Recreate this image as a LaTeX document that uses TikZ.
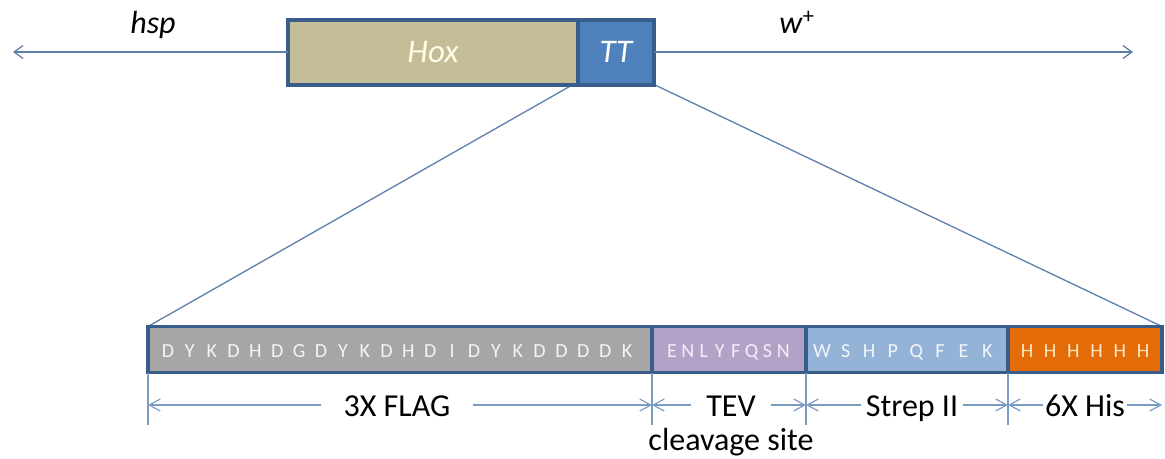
\documentclass[tikz,border=0pt]{standalone}
\usepackage{fontspec}
\setmainfont{Carlito}
\usetikzlibrary{arrows.meta,backgrounds}
\definecolor{boxline}{HTML}{385D8A}
\definecolor{hoxc}{HTML}{C4BD97}
\definecolor{ttc}{HTML}{4F81BD}
\definecolor{hoxtxt}{HTML}{FFFDE8}
\definecolor{linec}{HTML}{5E7FA8}
\definecolor{dimc}{HTML}{7D9CC4}
\definecolor{flagc}{HTML}{A6A6A6}
\definecolor{tevc}{HTML}{B3A2C7}
\definecolor{strepc}{HTML}{95B3D7}
\definecolor{hisc}{HTML}{E36C09}
\definecolor{flagtxt}{HTML}{F4F4F4}
\definecolor{tevtxt}{HTML}{F3EEF8}
\definecolor{streptxt}{HTML}{F2F6FB}
\definecolor{histxt}{HTML}{FCE6C2}
\tikzset{
  genebox/.style={draw=boxline, line width=4pt, inner sep=0pt, outer sep=0pt, minimum height=65pt},
  seg/.style={draw=boxline, line width=3.5pt, inner sep=0pt, outer sep=0pt, minimum height=46pt, anchor=west},
  lbl/.style={font=\fontsize{32}{38}\selectfont, text=black, inner sep=0pt},
  dimlbl/.style={font=\fontsize{32}{38}\selectfont, text=black, inner ysep=0pt, anchor=base},
  aa/.style={font=\fontsize{20}{22}\selectfont, inner sep=0pt, anchor=base},
  link/.style={draw=linec, line width=1.3pt},
  tip/.style={-{Straight Barb[length=9pt,width=13pt,line width=1.3pt]}},
  dim/.style={draw=dimc, line width=1.2pt, -{Straight Barb[length=11pt,width=12pt,line width=1.2pt]}},
  tick/.style={draw=dimc, line width=1.2pt}
}
\begin{document}
\begin{tikzpicture}[x=1pt,y=-1pt]
\useasboundingbox (0,0) rectangle (1165,458);

% gene construct
\node[genebox, fill=hoxc, minimum width=290pt, anchor=north west, font=\fontsize{33}{38}\selectfont\itshape, text=hoxtxt] (hox) at (288,19.5) {Hox};
\node[genebox, fill=ttc, minimum width=76pt, anchor=north west, font=\fontsize{33}{38}\selectfont\itshape, text=white] (tt) at (578,19.5) {TT};

\coordinate (hspend) at (13,52);
\coordinate (wend) at (1133,52);
\draw[link, tip] (hox.west) -- (hspend);
\draw[link, tip] (tt.east) -- (wend);

\node[lbl, anchor=base] (hsplbl) at (153,33) {\textit{hsp}};
\node[lbl, anchor=base] (wlbl) at (797,33) {\textit{w}\textsuperscript{+}};

% tag bar
\node[seg, fill=flagc, minimum width=504pt] (flag) at (148,349.5) {};
\node[seg, fill=tevc, minimum width=154pt] (tev) at (652,349.5) {};
\node[seg, fill=strepc, minimum width=202pt] (strep) at (806,349.5) {};
\node[seg, fill=hisc, minimum width=154pt] (his) at (1008,349.5) {};

\foreach \l [count=\i] in {D,Y,K,D,H,D,G,D,Y,K,D,H,D,I,D,Y,K,D,D,D,D,K}
  \node[aa, text=flagtxt] (fl\i) at ({168+(\i-1)*21.86},357) {\l};
\foreach \l [count=\i] in {E,N,L,Y,F,Q,S,N}
  \node[aa, text=tevtxt] (tl\i) at ({672+(\i-1)*15.9},357) {\l};
\foreach \l [count=\i] in {W,S,H,P,Q,F,E,K}
  \node[aa, text=streptxt] (sl\i) at ({822+(\i-1)*23.6},357) {\l};
\foreach \l [count=\i] in {H,H,H,H,H,H}
  \node[aa, text=histxt] (hl\i) at ({1027+(\i-1)*23.2},357) {\l};

% zoom lines
\begin{pgfonlayer}{background}
\draw[link] ([xshift=-5pt]hox.south east) -- (flag.north west);
\draw[link] (tt.south east) -- (his.north east);
\end{pgfonlayer}

% ticks
\coordinate (tk0) at (148,425);
\coordinate (tk1) at (652,425);
\coordinate (tk2) at (806,425);
\coordinate (tk3) at (1008,425);
\draw[tick] (flag.south west) -- (tk0);
\draw[tick] (tev.south west) -- (tk1);
\draw[tick] (strep.south west) -- (tk2);
\draw[tick] (his.south west) -- (tk3);

% dimension arrows
\coordinate (d0) at (148,405);
\coordinate (d1) at (652,405);
\coordinate (d2) at (806,405);
\coordinate (d3) at (1008,405);
\coordinate (d4) at (1162,405);

\node[dimlbl, inner xsep=22pt] (flagl) at (397,416) {3X FLAG};
\node[dimlbl, inner xsep=15pt] (tevl) at (731,416) {TEV};
\node[dimlbl, inner xsep=5pt] (strepl) at (912,416) {Strep II};
\node[dimlbl, inner xsep=2pt] (hisl) at (1085,416) {6X His};
\node[lbl, anchor=base] (cleave) at (731,450) {cleavage site};

\draw[dim] (flagl.west |- d0) -- (d0);
\draw[dim] (flagl.east |- d1) -- (d1);
\draw[dim] (tevl.west |- d1) -- (d1);
\draw[dim] (tevl.east |- d2) -- (d2);
\draw[dim] (strepl.west |- d2) -- (d2);
\draw[dim] (strepl.east |- d3) -- (d3);
\draw[dim] (hisl.west |- d3) -- (d3);
\draw[dim] (hisl.east |- d4) -- (d4);
\end{tikzpicture}
\end{document}
